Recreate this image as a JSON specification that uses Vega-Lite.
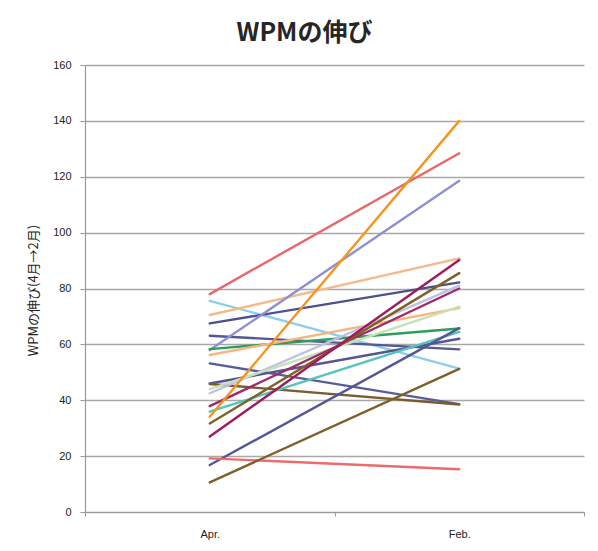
{
  "$schema": "https://vega.github.io/schema/vega-lite/v6.json",
  "width": 499,
  "height": 447,
  "autosize": {"type": "none"},
  "padding": {"left": 85, "top": 65, "right": 14, "bottom": 39},
  "background": "white",
  "title": {
    "text": "WPMの伸び",
    "font": "Noto Sans CJK JP",
    "fontSize": 25,
    "fontWeight": "bold",
    "color": "#262626",
    "anchor": "middle",
    "dx": -30,
    "offset": 13
  },
  "config": {
    "view": {"stroke": null},
    "axis": {"labelFont": "Liberation Sans", "labelColor": "#222222"}
  },
  "data": {
    "values": [
      {"s": "s01", "m": "Apr.", "v": 78}, {"s": "s01", "m": "Feb.", "v": 128.4},
      {"s": "s02", "m": "Apr.", "v": 75.6}, {"s": "s02", "m": "Feb.", "v": 51.3},
      {"s": "s03", "m": "Apr.", "v": 70.5}, {"s": "s03", "m": "Feb.", "v": 90.8},
      {"s": "s04", "m": "Apr.", "v": 67.5}, {"s": "s04", "m": "Feb.", "v": 82.2},
      {"s": "s05", "m": "Apr.", "v": 63.1}, {"s": "s05", "m": "Feb.", "v": 58.2},
      {"s": "s06", "m": "Apr.", "v": 58}, {"s": "s06", "m": "Feb.", "v": 118.6},
      {"s": "s07", "m": "Apr.", "v": 58.3}, {"s": "s07", "m": "Feb.", "v": 65.7},
      {"s": "s08", "m": "Apr.", "v": 56.2}, {"s": "s08", "m": "Feb.", "v": 73},
      {"s": "s09", "m": "Apr.", "v": 53.2}, {"s": "s09", "m": "Feb.", "v": 38.6},
      {"s": "s10", "m": "Apr.", "v": 46}, {"s": "s10", "m": "Feb.", "v": 62},
      {"s": "s11", "m": "Apr.", "v": 45.8}, {"s": "s11", "m": "Feb.", "v": 38.5},
      {"s": "s12", "m": "Apr.", "v": 42.5}, {"s": "s12", "m": "Feb.", "v": 81},
      {"s": "s13", "m": "Apr.", "v": 44}, {"s": "s13", "m": "Feb.", "v": 73.5},
      {"s": "s14", "m": "Apr.", "v": 37.9}, {"s": "s14", "m": "Feb.", "v": 80},
      {"s": "s15", "m": "Apr.", "v": 35.9}, {"s": "s15", "m": "Feb.", "v": 64.5},
      {"s": "s16", "m": "Apr.", "v": 34.1}, {"s": "s16", "m": "Feb.", "v": 140},
      {"s": "s17", "m": "Apr.", "v": 31.7}, {"s": "s17", "m": "Feb.", "v": 85.5},
      {"s": "s18", "m": "Apr.", "v": 27}, {"s": "s18", "m": "Feb.", "v": 90.2},
      {"s": "s19", "m": "Apr.", "v": 16.8}, {"s": "s19", "m": "Feb.", "v": 65.8},
      {"s": "s20", "m": "Apr.", "v": 19.2}, {"s": "s20", "m": "Feb.", "v": 15.3},
      {"s": "s21", "m": "Apr.", "v": 10.6}, {"s": "s21", "m": "Feb.", "v": 51.2}
    ]
  },
  "mark": {"type": "line", "strokeWidth": 2.4, "strokeCap": "round"},
  "encoding": {
    "x": {
      "field": "m",
      "type": "ordinal",
      "sort": ["Apr.", "Feb."],
      "bandPosition": 0.5,
      "scale": {"type": "band", "paddingInner": 0, "paddingOuter": 0},
      "axis": {
        "title": null,
        "labelAngle": 0,
        "labelFontSize": 11,
        "labelPadding": 12,
        "tickBand": "extent",
        "tickSize": 4,
        "tickColor": "#999999",
        "domainColor": "#999999",
        "domainWidth": 1.2,
        "grid": false
      }
    },
    "y": {
      "field": "v",
      "type": "quantitative",
      "scale": {"domain": [0, 160], "nice": false},
      "axis": {
        "values": [0, 20, 40, 60, 80, 100, 120, 140, 160],
        "title": "WPMの伸び(4月→2月)",
        "titleFont": "Noto Sans CJK JP",
        "titleFontSize": 13,
        "titleFontWeight": "normal",
        "titleColor": "#222222",
        "titleX": -52,
        "titleY": 225,
        "titleAlign": "center",
        "titleBaseline": "middle",
        "titleAngle": -90,
        "labelFontSize": 11,
        "labelPadding": 9,
        "tickSize": 5,
        "tickColor": "#999999",
        "domainColor": "#999999",
        "domainWidth": 1.2,
        "gridColor": "#A8A8A8",
        "gridWidth": 1.4
      }
    },
    "detail": {"field": "s"},
    "color": {
      "field": "s",
      "type": "nominal",
      "legend": null,
      "scale": {
        "domain": ["s01","s02","s03","s04","s05","s06","s07","s08","s09","s10","s11","s12","s13","s14","s15","s16","s17","s18","s19","s20","s21"],
        "range": ["#E8676B","#8DCDEE","#F6B98A","#4D4F8F","#55578F","#8E90D4","#2F9B5E","#F7B57F","#5A5C98","#555590","#7B5C2E","#BFC0E6","#C3E3B5","#9E2A6A","#55C4BE","#F7941E","#7D6226","#A21A5A","#54569A","#EE6B6B","#80602A"]
      }
    }
  }
}
